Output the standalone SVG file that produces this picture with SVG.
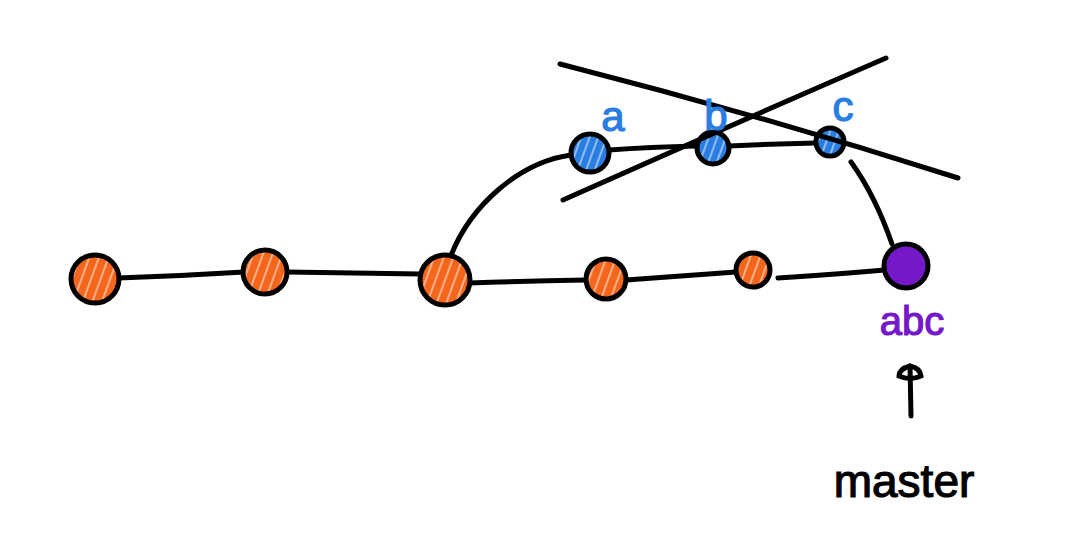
<svg xmlns="http://www.w3.org/2000/svg" width="1065" height="536" viewBox="0 0 1065 536">
<style>
.edge{fill:none;stroke:#000;stroke-width:5;stroke-linecap:round}
.node{stroke:#000;stroke-width:5}
.orange{fill:url(#hatchO)}
.blue{fill:url(#hatchB)}
.purple{fill:#7418c9}
.lbl{font-family:"Liberation Sans",sans-serif;stroke-width:1.2}
</style>
<defs>
<pattern id="hatchO" patternUnits="userSpaceOnUse" width="9" height="9" patternTransform="rotate(20)">
<rect width="9" height="9" fill="#f4661b"/>
<line x1="1" y1="0" x2="1" y2="9" stroke="#fff" stroke-width="1.2" opacity="0.8"/>
</pattern>
<pattern id="hatchB" patternUnits="userSpaceOnUse" width="8" height="8" patternTransform="rotate(20)">
<rect width="8" height="8" fill="#2a7de1"/>
<line x1="1" y1="0" x2="1" y2="8" stroke="#fff" stroke-width="1.2" opacity="0.8"/>
</pattern>
</defs>
<rect width="1065" height="536" fill="#fff"/>
<g id="connectors">
<path class="edge" d="M118 278 Q180 276 244 272"/>
<path class="edge" d="M287 272 Q350 273 420 274"/>
<path class="edge" d="M470 283 Q530 281 586 280"/>
<path class="edge" d="M626 280 Q680 276 736 272"/>
<path class="edge" d="M778 278 Q840 274 884 270"/>
<path class="edge" d="M450 258 C470 205 520 162 571 155"/>
<path class="edge" d="M609 150 Q650 147 697 146"/>
<path class="edge" d="M729 146 Q770 144 816 143"/>
<path class="edge" d="M851 162 Q875 195 892 244"/>
<path class="edge" d="M911 416 L910 366"/>
<path class="edge" d="M910 366 Q899 369 899 376 Q910 381 921 376 Q920 368 910 366" stroke-width="4"/>
</g>
<g id="node1"><circle class="node orange" cx="95" cy="279" r="24"/></g>
<g id="node2"><circle class="node orange" cx="265" cy="272" r="22"/></g>
<g id="node3"><circle class="node orange" cx="445" cy="280" r="25"/></g>
<g id="node4"><circle class="node orange" cx="606" cy="279" r="20"/></g>
<g id="node5"><circle class="node orange" cx="753" cy="270" r="17"/></g>
<g id="node6"><circle class="node purple" cx="906" cy="266" r="22"/></g>
<g id="nodeA"><circle class="node blue" cx="590" cy="153" r="19"/></g>
<g id="nodeB"><circle class="node blue" cx="713" cy="148" r="16"/></g>
<g id="nodeC"><circle class="node blue" cx="830" cy="142" r="14"/></g>
<g id="cross">
<path class="edge" d="M560 64 Q760 115 958 178"/>
<path class="edge" d="M563 200 Q720 130 886 58"/>
</g>
<g id="labels">
<text class="lbl" x="613" y="131" font-size="42" fill="#2a7de1" stroke="#2a7de1" text-anchor="middle">a</text>
<text class="lbl" x="716" y="130" font-size="42" fill="#2a7de1" stroke="#2a7de1" text-anchor="middle">b</text>
<text class="lbl" x="843" y="121" font-size="42" fill="#2a7de1" stroke="#2a7de1" text-anchor="middle">c</text>
<text class="lbl" x="912" y="335" font-size="40" fill="#7418c9" stroke="#7418c9" text-anchor="middle">abc</text>
<text class="lbl" x="904" y="497" font-size="46" fill="#000" stroke="#000" text-anchor="middle">master</text>
</g>
</svg>
